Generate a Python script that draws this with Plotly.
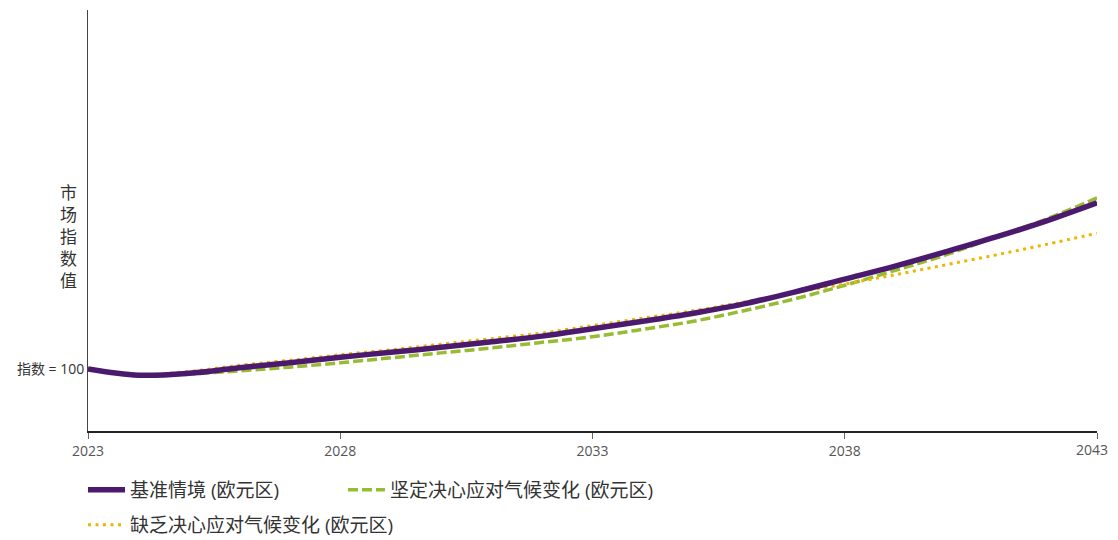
import plotly.graph_objects as go

years = list(range(2023, 2044))
baseline = [100.0, 99.0, 99.3, 100.2, 101.0, 101.9, 102.7, 103.5, 104.4, 105.3, 106.5,
            107.7, 109.0, 110.5, 112.4, 114.5, 116.6, 118.9, 121.3, 123.9, 126.8]
decisive = [100.0, 99.0, 99.2, 99.7, 100.3, 101.0, 101.8, 102.6, 103.4, 104.3, 105.2,
            106.4, 107.7, 109.4, 111.3, 113.5, 115.9, 118.4, 121.3, 124.2, 127.6]
lacking = [100.0, 99.1, 99.6, 100.6, 101.4, 102.3, 103.1, 104.0, 104.9, 105.8, 107.0,
           108.2, 109.4, 110.8, 112.3, 113.7, 115.2, 116.8, 118.4, 120.1, 121.9]

names = ["基准情境 (欧元区)", "坚定决心应对气候变化 (欧元区)", "缺乏决心应对气候变化 (欧元区)"]
colors = ["#4B1A6E", "#97BC33", "#EDB500"]
x_ticks = [2023, 2028, 2033, 2038, 2043]
y_title = "市场指数值"

FONT = "Open Sans, Noto Sans CJK SC, sans-serif"

fig = go.Figure()
fig.add_trace(go.Scatter(x=years, y=decisive, name=names[1], mode="lines",
                         line=dict(color=colors[1], width=3.5, dash="10px,4px", shape="spline"),
                         legend="legend2"))
fig.add_trace(go.Scatter(x=years, y=lacking, name=names[2], mode="lines",
                         line=dict(color=colors[2], width=3, dash="3px,4.5px", shape="spline"),
                         legend="legend3"))
fig.add_trace(go.Scatter(x=years, y=baseline, name=names[0], mode="lines",
                         line=dict(color=colors[0], width=5.5, shape="spline"),
                         legend="legend"))
# invisible helper so the overlaying axis (carrying the last tick label) is drawn
fig.add_trace(go.Scatter(x=[years[-1]], y=[baseline[-1]], xaxis="x2", yaxis="y",
                         mode="markers", marker=dict(opacity=0), showlegend=False,
                         hoverinfo="skip"))

PW, PH = 1009, 421  # plot area size in px
legfont = dict(size=19, color="#333", family=FONT)
common = dict(orientation="h", xanchor="left", yanchor="middle", font=legfont,
              bgcolor="rgba(0,0,0,0)", itemwidth=37)
tickfont = dict(size=14, color="#555", family=FONT)

# last tick label drawn on an overlaying axis, nudged left so it stays on the page
main_text = [str(v) for v in x_ticks[:-1]] + [""]

fig.update_layout(
    width=1110, height=532,
    margin=dict(l=80, r=21, t=2, b=109, autoexpand=False),
    paper_bgcolor="white", plot_bgcolor="white",
    font=dict(family=FONT, color="#444"),
    xaxis=dict(range=[2023, 2043], tickvals=x_ticks, ticktext=main_text,
               showgrid=False, zeroline=False, showline=True, linecolor="#222", linewidth=1.5,
               ticks="outside", ticklen=6, tickcolor="#666", tickwidth=1, automargin=False,
               tickfont=tickfont),
    xaxis2=dict(range=[2023, 2043], overlaying="x", anchor="y", side="bottom",
                tickvals=[x_ticks[-1]], ticktext=[str(x_ticks[-1])], ticklabelshift=-5,
                showgrid=False, zeroline=False, showline=False, ticks="outside",
                ticklen=6, tickcolor="rgba(0,0,0,0)", automargin=False, tickfont=tickfont),
    yaxis=dict(range=[90, 157.9], tickvals=[100], ticktext=["指数 = 100"], automargin=False,
               showgrid=False, zeroline=False, showline=True, linecolor="#444", linewidth=1,
               ticks="", tickfont=dict(size=14, color="#333", family=FONT)),
    legend=dict(x=-5 / PW, y=(431 - 490) / PH, **common),
    legend2=dict(x=(348 - 5 - 88) / PW, y=(431 - 490) / PH, **common),
    legend3=dict(x=-5 / PW, y=(431 - 525) / PH, **common),
    showlegend=True,
)

# vertical stacked y-axis title
fig.add_annotation(text="<br>".join(list(y_title)), xref="paper", yref="paper",
                   x=(68 - 88) / PW, y=(431 - 236) / PH,
                   xanchor="center", yanchor="middle", showarrow=False, align="center",
                   font=dict(size=17, color="#333", family=FONT))

fig.write_html("out.html")
